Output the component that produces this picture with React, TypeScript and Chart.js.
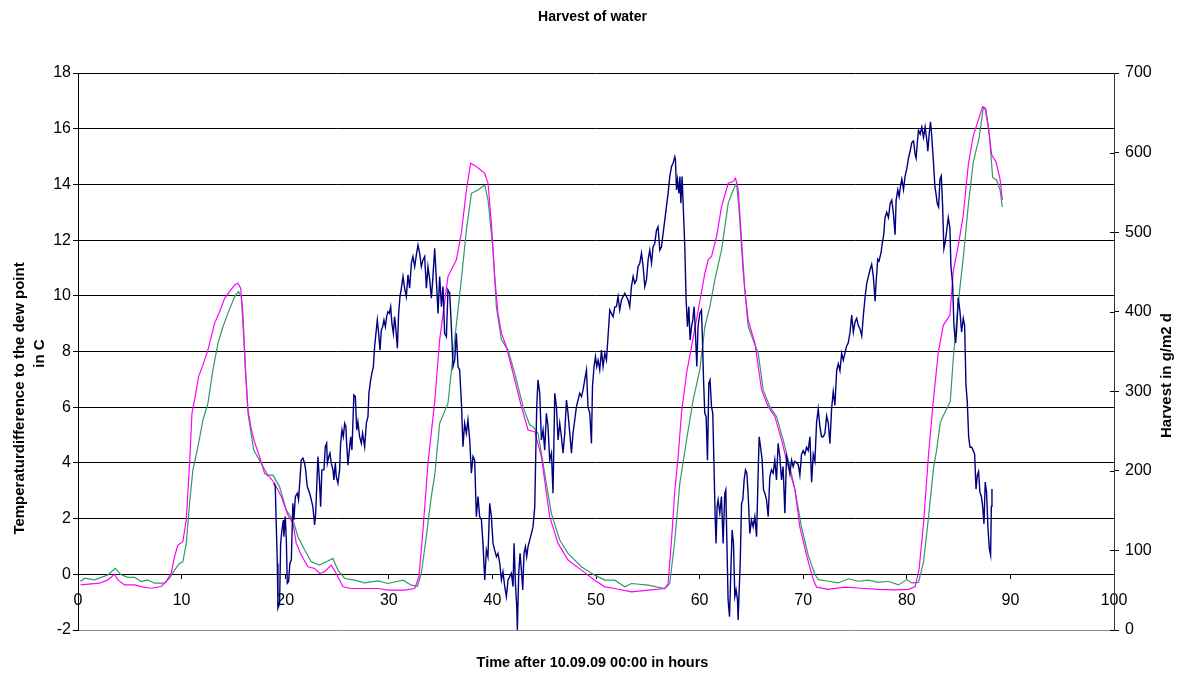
import React, { useEffect, useRef } from "react";
import { Chart, registerables } from "chart.js";

Chart.register(...registerables);

const FONT = '"Liberation Sans", Arial, Helvetica, sans-serif';

const chartTitle = "Harvest of water";
const xTitle = "Time after 10.09.09 00:00 in hours";
const leftTitleLines = ["Temperaturdifference to the dew point", "in C"];
const rightTitle = "Harvest in g/m2 d";

const xTicks = { min: 0, max: 100, step: 10 };
const leftTicks = { min: -2, max: 18, step: 2 };
const rightTicks = { min: 0, max: 700, step: 100 };

// [hours, temperature difference to the dew point in C]
const dewPointDiff: [number, number][] = [
  [18.91, 3.27], [19.04, 3.15], [19.24, 0.39], [19.3, -1.22], [19.46, -1.04], [19.56, 1.11], [19.68, 1.59],
  [19.82, 1.95], [19.87, 1.35], [20.01, 2.07], [20.11, 1.23], [20.2, -0.32], [20.33, -0.26], [20.45, 0.39],
  [20.59, 0.51], [20.74, 2.55], [20.84, 1.95], [20.98, 2.79], [21.17, 2.91], [21.29, 2.67], [21.55, 4.1],
  [21.71, 4.17], [21.87, 3.99], [21.97, 3.75], [22.13, 3.15], [22.36, 2.91], [22.52, 2.67], [22.67, 2.43],
  [22.84, 1.77], [22.94, 2.19], [23.16, 4.23], [23.32, 3.27], [23.42, 2.43], [23.54, 3.75], [23.74, 3.75],
  [23.87, 4.58], [24.0, 4.7], [24.07, 3.99], [24.21, 4.23], [24.32, 4.35], [24.45, 3.99], [24.61, 3.75],
  [24.7, 3.39], [24.84, 3.99], [24.93, 3.51], [25.09, 3.27], [25.25, 3.75], [25.35, 4.7], [25.48, 5.18],
  [25.61, 4.94], [25.74, 5.42], [25.86, 5.3], [25.93, 4.7], [26.06, 3.92], [26.19, 4.46], [26.32, 4.94],
  [26.44, 4.46], [26.63, 6.44], [26.77, 6.38], [26.9, 5.18], [27.02, 5.48], [27.18, 4.94], [27.35, 4.7],
  [27.47, 5.06], [27.67, 4.58], [27.83, 5.42], [27.99, 5.66], [28.08, 6.5], [28.25, 6.98], [28.37, 7.22],
  [28.51, 7.46], [28.63, 8.17], [28.76, 8.65], [28.89, 9.13], [29.02, 8.65], [29.15, 8.05], [29.28, 8.77],
  [29.41, 8.89], [29.53, 9.13], [29.67, 8.89], [29.79, 9.25], [29.92, 9.43], [30.05, 9.37], [30.18, 9.61],
  [30.3, 9.01], [30.44, 8.65], [30.56, 9.25], [30.69, 8.77], [30.83, 8.12], [30.95, 9.37], [31.08, 9.97],
  [31.21, 10.27], [31.37, 10.69], [31.53, 10.27], [31.69, 9.97], [31.85, 10.75], [32.01, 10.27], [32.18, 11.17],
  [32.33, 11.41], [32.5, 11.05], [32.66, 11.47], [32.82, 11.82], [32.98, 11.53], [33.14, 11.05], [33.3, 11.29],
  [33.46, 11.41], [33.63, 10.27], [33.78, 11.05], [33.95, 10.57], [34.11, 9.91], [34.26, 10.69], [34.43, 11.71],
  [34.59, 10.57], [34.75, 9.37], [34.91, 10.69], [35.08, 9.61], [35.23, 10.33], [35.39, 8.65], [35.56, 8.53],
  [35.71, 10.21], [35.88, 10.09], [36.04, 8.89], [36.2, 7.46], [36.36, 7.69], [36.52, 8.65], [36.68, 7.46],
  [36.84, 7.34], [37.01, 6.14], [37.16, 4.58], [37.32, 5.42], [37.49, 5.06], [37.64, 5.54], [37.81, 4.82],
  [37.97, 3.63], [38.13, 4.23], [38.29, 4.1], [38.45, 2.07], [38.61, 2.79], [38.77, 2.07], [38.94, 1.95],
  [39.09, 1.11], [39.26, -0.2], [39.42, 0.87], [39.57, 0.63], [39.74, 2.55], [39.9, 2.07], [40.06, 1.11],
  [40.22, 0.87], [40.39, 0.63], [40.54, 0.75], [40.71, 0.39], [40.87, -0.2], [41.02, 0.09], [41.19, -0.44],
  [41.35, -0.8], [41.51, -0.2], [41.67, -0.09], [41.83, 0.04], [41.99, -0.44], [42.09, 1.11], [42.22, -0.32],
  [42.35, -1.16], [42.41, -2.0], [42.54, 0.04], [42.67, 0.75], [42.8, 0.15], [42.93, -0.56], [43.05, 0.75],
  [43.19, 0.99], [43.31, 0.63], [43.44, 0.99], [43.6, 1.23], [43.77, 1.47], [43.92, 1.71], [44.09, 2.43],
  [44.18, 4.23], [44.28, 6.02], [44.4, 6.98], [44.57, 6.5], [44.73, 4.82], [44.89, 5.18], [45.05, 4.46],
  [45.21, 5.78], [45.37, 5.3], [45.53, 4.1], [45.7, 4.35], [45.85, 2.91], [46.02, 6.5], [46.18, 6.02],
  [46.34, 4.82], [46.5, 5.42], [46.66, 4.94], [46.82, 4.35], [46.98, 5.06], [47.15, 6.26], [47.3, 5.78],
  [47.47, 5.06], [47.63, 4.35], [47.78, 5.06], [47.95, 5.54], [48.11, 6.02], [48.27, 6.26], [48.43, 6.5],
  [48.6, 6.38], [48.75, 6.62], [48.91, 6.98], [49.08, 7.34], [49.23, 6.02], [49.4, 5.78], [49.56, 4.7],
  [49.66, 6.74], [49.81, 7.46], [49.95, 7.82], [50.07, 7.46], [50.2, 7.69], [50.36, 7.34], [50.53, 8.05],
  [50.68, 7.46], [50.85, 7.94], [51.01, 7.69], [51.16, 8.53], [51.33, 9.49], [51.49, 9.37], [51.65, 9.25],
  [51.81, 9.6], [51.97, 9.61], [52.13, 9.97], [52.29, 9.49], [52.46, 9.85], [52.78, 10.09], [53.1, 9.85],
  [53.26, 9.61], [53.42, 10.33], [53.58, 10.69], [53.74, 10.45], [53.91, 10.57], [54.06, 11.05], [54.23, 11.17],
  [54.39, 11.53], [54.55, 11.05], [54.71, 10.33], [54.87, 10.57], [55.03, 11.29], [55.19, 11.64], [55.36, 11.17],
  [55.51, 11.76], [55.67, 11.88], [55.84, 12.36], [55.99, 12.48], [56.16, 11.64], [56.32, 11.76], [56.48, 12.24],
  [56.64, 12.72], [56.8, 13.2], [56.96, 13.68], [57.12, 14.28], [57.29, 14.64], [57.44, 14.76], [57.61, 14.99],
  [57.67, 14.88], [57.77, 13.8], [57.87, 14.16], [58.0, 13.68], [58.1, 14.28], [58.19, 13.32], [58.31, 14.28],
  [58.41, 13.32], [58.57, 11.76], [58.7, 9.85], [58.83, 8.89], [58.96, 9.61], [59.08, 8.41], [59.22, 8.89],
  [59.34, 9.13], [59.47, 9.61], [59.6, 8.65], [59.73, 7.46], [59.85, 8.89], [60.02, 9.37], [60.18, 9.49],
  [60.28, 8.41], [60.38, 6.98], [60.5, 5.78], [60.63, 5.66], [60.76, 4.1], [60.89, 6.86], [61.01, 6.98],
  [61.15, 6.02], [61.27, 5.78], [61.4, 3.75], [61.5, 2.07], [61.59, 1.11], [61.69, 2.43], [61.79, 2.67],
  [61.95, 2.19], [62.11, 2.79], [62.27, 1.11], [62.43, 2.91], [62.53, 3.03], [62.63, 1.23], [62.75, -0.92],
  [62.89, -1.52], [63.01, 0.04], [63.14, 1.59], [63.27, 1.11], [63.4, -0.8], [63.52, -0.56], [63.66, -0.92],
  [63.72, -1.64], [63.82, -0.56], [63.91, 0.27], [64.05, 2.55], [64.17, 2.67], [64.3, 3.39], [64.43, 3.75],
  [64.56, 3.63], [64.68, 2.91], [64.85, 1.47], [65.01, 1.95], [65.17, 1.71], [65.33, 2.07], [65.5, 1.35],
  [65.65, 3.63], [65.75, 4.94], [65.88, 4.58], [66.04, 4.1], [66.17, 3.03], [66.3, 2.91], [66.46, 2.67],
  [66.62, 2.07], [66.78, 3.51], [66.94, 3.75], [67.1, 3.63], [67.26, 4.1], [67.42, 3.39], [67.58, 4.7],
  [67.74, 4.23], [67.91, 3.39], [68.06, 3.87], [68.23, 2.19], [68.39, 4.23], [68.55, 3.99], [68.71, 3.63],
  [68.88, 4.1], [69.03, 3.87], [69.19, 4.06], [69.52, 3.94], [69.68, 3.56], [69.84, 4.31], [70.0, 4.44],
  [70.16, 4.31], [70.32, 4.56], [70.48, 4.44], [70.65, 4.94], [70.81, 3.31], [70.97, 4.31], [71.13, 4.06],
  [71.29, 5.44], [71.45, 5.94], [71.61, 5.31], [71.77, 4.94], [71.94, 4.94], [72.1, 5.06], [72.26, 5.69],
  [72.42, 5.44], [72.58, 4.69], [72.74, 5.94], [72.9, 6.56], [73.06, 6.06], [73.23, 7.31], [73.39, 7.56],
  [73.55, 7.31], [73.71, 7.94], [73.87, 7.69], [74.03, 7.94], [74.19, 8.19], [74.35, 8.31], [74.52, 8.69],
  [74.68, 9.31], [74.84, 8.69], [75.0, 9.06], [75.16, 9.19], [75.32, 8.94], [75.48, 8.81], [75.65, 8.56],
  [75.81, 9.31], [75.97, 9.94], [76.13, 10.44], [76.29, 10.69], [76.45, 10.94], [76.61, 11.13], [76.77, 10.69],
  [76.94, 9.81], [77.03, 10.44], [77.19, 11.31], [77.32, 11.25], [77.52, 11.56], [77.65, 11.94], [77.77, 12.19],
  [77.9, 12.81], [78.06, 13.0], [78.23, 12.81], [78.39, 13.31], [78.55, 13.44], [78.71, 12.94], [78.87, 12.19],
  [78.97, 13.44], [79.13, 13.81], [79.26, 13.56], [79.39, 13.94], [79.52, 14.19], [79.68, 13.81], [79.84, 14.31],
  [80.0, 14.56], [80.16, 14.94], [80.32, 15.19], [80.48, 15.5], [80.65, 15.56], [80.81, 15.06], [80.9, 14.94],
  [81.0, 15.44], [81.13, 15.94], [81.29, 15.81], [81.45, 16.06], [81.61, 15.69], [81.77, 16.06], [81.94, 15.56],
  [82.03, 15.19], [82.16, 15.81], [82.29, 16.25], [82.39, 15.81], [82.55, 14.94], [82.71, 13.94], [82.81, 13.69],
  [82.94, 13.31], [83.07, 13.19], [83.2, 14.19], [83.33, 14.31], [83.45, 13.31], [83.58, 11.69], [83.71, 11.94],
  [83.84, 12.31], [84.0, 12.81], [84.16, 12.44], [84.26, 11.06], [84.42, 10.44], [84.55, 8.94], [84.71, 8.31],
  [84.8, 8.69], [84.97, 9.94], [85.13, 9.44], [85.29, 8.69], [85.45, 9.19], [85.58, 8.94], [85.71, 6.81],
  [85.84, 6.19], [85.97, 4.94], [86.1, 4.56], [86.26, 4.56], [86.42, 4.44], [86.55, 4.31], [86.68, 3.06],
  [86.81, 3.56], [86.93, 3.69], [87.06, 2.94], [87.19, 2.81], [87.32, 2.44], [87.45, 1.81], [87.57, 3.31],
  [87.7, 2.94], [87.83, 1.69], [87.96, 0.94], [88.09, 0.69], [88.16, 2.44], [88.22, 3.06],
];

// [hours, value] of the magenta curve
const magentaCurve: [number, number][] = [
  [0.24, -0.38], [2.08, -0.32], [2.88, -0.2], [3.52, 0.0], [3.85, -0.2], [4.49, -0.38], [5.46, -0.38],
  [6.1, -0.44], [7.07, -0.5], [8.03, -0.44], [8.51, -0.26], [9.0, 0.04], [9.32, 0.63], [9.64, 1.05],
  [10.12, 1.17], [10.45, 1.95], [10.77, 3.99], [11.0, 5.78], [11.25, 6.26], [11.64, 7.1], [12.06, 7.52],
  [12.54, 8.05], [13.18, 9.01], [13.67, 9.43], [14.15, 9.91], [14.63, 10.15], [15.12, 10.39], [15.44, 10.45],
  [15.7, 10.27], [15.92, 9.37], [16.15, 7.34], [16.41, 5.9], [16.73, 5.2], [17.04, 4.75], [17.53, 4.22],
  [18.01, 3.62], [18.49, 3.5], [18.97, 3.27], [19.62, 2.79], [20.26, 2.13], [20.75, 1.83], [21.07, 1.11],
  [21.55, 0.69], [22.19, 0.27], [22.84, 0.21], [23.32, 0.03], [23.8, 0.09], [24.45, 0.33], [24.93, 0.03],
  [25.58, -0.45], [26.38, -0.51], [27.67, -0.51], [28.96, -0.51], [29.92, -0.57], [31.53, -0.57], [32.5, -0.51],
  [32.91, -0.09], [33.3, 1.59], [33.78, 3.98], [34.43, 6.2], [34.91, 8.42], [35.71, 10.69], [36.52, 11.29],
  [37.0, 12.24], [37.49, 13.8], [37.9, 14.76], [38.45, 14.64], [39.26, 14.4], [39.58, 14.04], [39.9, 12.6],
  [40.22, 10.69], [40.54, 9.37], [40.87, 8.65], [41.35, 8.17], [42.15, 6.98], [42.8, 6.02], [43.44, 5.18],
  [44.09, 5.12], [44.73, 4.22], [45.53, 2.07], [46.34, 1.11], [47.3, 0.51], [48.59, 0.15], [49.88, -0.21],
  [50.85, -0.45], [51.81, -0.51], [53.42, -0.63], [55.03, -0.57], [56.64, -0.51], [56.96, -0.33], [57.29, 1.23],
  [57.61, 3.02], [57.93, 4.22], [58.25, 5.78], [58.74, 7.22], [59.22, 8.17], [59.87, 9.49], [60.51, 10.81],
  [60.83, 11.29], [61.15, 11.41], [61.63, 12.12], [62.12, 13.2], [62.76, 14.04], [63.24, 14.1], [63.47, 14.22],
  [63.73, 13.8], [64.05, 12.0], [64.37, 10.21], [64.69, 9.13], [65.34, 8.29], [65.98, 6.62], [66.62, 6.02],
  [67.27, 5.66], [67.91, 4.82], [68.56, 3.86], [69.2, 3.04], [69.68, 1.69], [70.32, 0.69], [70.97, -0.19],
  [71.29, -0.46], [72.42, -0.54], [74.03, -0.46], [75.65, -0.5], [77.26, -0.54], [78.87, -0.56], [80.16, -0.54],
  [80.81, -0.44], [81.19, 0.19], [81.61, 1.81], [82.1, 4.31], [82.55, 6.19], [83.03, 7.94], [83.52, 8.94],
  [84.16, 9.31], [84.49, 10.9], [84.97, 11.8], [85.45, 12.9], [85.95, 14.75], [86.42, 15.75], [86.9, 16.31],
  [87.32, 16.79], [87.55, 16.75], [87.87, 16.06], [88.19, 15.06], [88.61, 14.81], [89.0, 14.19], [89.22, 13.44],
];

// [hours, value] of the green curve
const greenCurve: [number, number][] = [
  [0.24, -0.26], [0.63, -0.14], [1.59, -0.2], [2.88, -0.02], [3.59, 0.21], [4.17, -0.02], [4.81, -0.11],
  [5.46, -0.11], [6.1, -0.26], [6.74, -0.2], [7.39, -0.32], [8.35, -0.32], [8.84, -0.14], [9.32, 0.15],
  [9.8, 0.39], [10.12, 0.45], [10.45, 1.11], [10.77, 2.55], [11.09, 3.75], [11.58, 4.58], [12.06, 5.54],
  [12.54, 6.14], [13.02, 7.34], [13.51, 8.29], [13.99, 8.89], [14.47, 9.37], [15.12, 9.97], [15.5, 10.15],
  [15.76, 9.97], [16.09, 7.94], [16.41, 5.78], [16.96, 4.46], [17.69, 3.98], [18.33, 3.56], [18.81, 3.56],
  [19.46, 3.14], [20.1, 2.31], [20.75, 1.95], [21.23, 1.35], [21.88, 0.87], [22.52, 0.45], [23.32, 0.33],
  [23.97, 0.45], [24.61, 0.57], [25.09, 0.15], [25.74, -0.15], [26.7, -0.21], [27.67, -0.31], [28.96, -0.24],
  [29.92, -0.33], [31.37, -0.21], [32.18, -0.39], [32.76, -0.43], [33.14, 0.03], [33.62, 1.35], [34.1, 2.79],
  [34.43, 3.55], [34.91, 5.42], [35.71, 6.14], [36.36, 8.42], [37.0, 10.57], [37.49, 12.36], [37.97, 13.68],
  [38.61, 13.8], [39.26, 13.98], [39.58, 13.44], [40.06, 11.65], [40.38, 9.61], [40.87, 8.42], [41.51, 8.05],
  [42.15, 7.22], [42.96, 6.02], [43.6, 5.36], [43.92, 5.3], [44.41, 5.06], [45.05, 3.62], [45.69, 2.19],
  [46.5, 1.23], [47.3, 0.75], [48.59, 0.27], [49.88, -0.03], [50.85, -0.21], [51.81, -0.21], [52.78, -0.45],
  [53.42, -0.33], [55.03, -0.39], [56.64, -0.51], [57.12, -0.33], [57.61, 1.23], [58.09, 3.26], [58.74, 4.82],
  [59.38, 6.26], [60.02, 7.34], [60.51, 8.89], [60.99, 9.61], [61.47, 10.57], [62.12, 11.65], [62.76, 13.32],
  [63.24, 13.8], [63.56, 14.04], [63.79, 13.2], [64.21, 10.81], [64.69, 8.89], [65.17, 8.41], [65.66, 7.93],
  [66.14, 6.62], [66.78, 6.02], [67.43, 5.66], [68.07, 4.82], [68.72, 3.86], [69.2, 3.04], [69.84, 1.69],
  [70.48, 0.69], [71.13, 0.0], [71.45, -0.19], [72.42, -0.25], [73.39, -0.31], [74.35, -0.16], [75.32, -0.25],
  [76.29, -0.21], [77.26, -0.29], [78.23, -0.25], [79.19, -0.38], [80.0, -0.19], [80.48, -0.31], [81.13, -0.29],
  [81.61, 0.44], [82.1, 2.06], [82.58, 3.81], [82.87, 4.44], [83.23, 5.44], [83.52, 5.69], [84.0, 6.06],
  [84.19, 6.19], [84.5, 7.8], [84.98, 9.8], [85.46, 11.4], [85.95, 13.3], [86.42, 14.81], [86.99, 15.69],
  [87.38, 16.75], [87.64, 16.69], [87.96, 15.81], [88.29, 14.25], [88.67, 14.16], [89.0, 13.81], [89.22, 13.19],
];

const toPoints = (rows: [number, number][]) => rows.map(([x, y]) => ({ x, y }));

// Vertical axis titles (left one in two lines, right one reading upwards)
// and the short inward tick marks on the right-hand axis
const sideTitles = {
  id: "sideTitles",
  afterDraw(chart: Chart) {
    const { ctx, chartArea } = chart;
    const mid = (chartArea.top + chartArea.bottom) / 2;
    const put = (text: string, x: number, y: number, maxWidth: number) => {
      ctx.save();
      ctx.translate(x, y);
      ctx.rotate(-Math.PI / 2);
      ctx.fillText(text, 0, 0, maxWidth);
      ctx.restore();
    };
    ctx.save();
    ctx.fillStyle = "#000";
    ctx.font = `bold 15px ${FONT}`;
    ctx.textAlign = "center";
    ctx.textBaseline = "middle";
    put(leftTitleLines[0], 20, mid + 47, 282);
    put(leftTitleLines[1], 40, mid + 2, 40);
    put(rightTitle, chart.width - 18, mid + 24, 132);

    const right = chart.scales.y1;
    if (right) {
      ctx.strokeStyle = "#000";
      ctx.lineWidth = 1;
      ctx.beginPath();
      right.ticks.forEach((t) => {
        const py = Math.round(right.getPixelForValue(t.value)) + 0.5;
        ctx.moveTo(chartArea.right - 4, py);
        ctx.lineTo(chartArea.right, py);
      });
      ctx.stroke();
    }
    ctx.restore();
  },
};

export default function App() {
  const canvasRef = useRef<HTMLCanvasElement | null>(null);

  useEffect(() => {
    if (!canvasRef.current) return;
    const chart = new Chart(canvasRef.current, {
      type: "line",
      data: {
        datasets: [
          {
            data: toPoints(dewPointDiff),
            borderColor: "#000080",
            borderWidth: 1.4,
            pointRadius: 0,
            yAxisID: "y",
          },
          {
            data: toPoints(magentaCurve),
            borderColor: "#FF00FF",
            borderWidth: 1.2,
            pointRadius: 0,
            yAxisID: "y",
          },
          {
            data: toPoints(greenCurve),
            borderColor: "#339966",
            borderWidth: 1.2,
            pointRadius: 0,
            yAxisID: "y",
          },
        ],
      },
      options: {
        animation: false,
        responsive: true,
        maintainAspectRatio: false,
        events: [],
        plugins: {
          legend: { display: false },
          tooltip: { enabled: false },
          title: {
            display: true,
            text: chartTitle,
            color: "#000",
            font: { family: FONT, size: 14, weight: "bold" },
            padding: { top: 9, bottom: 47.2 },
          },
          subtitle: {
            display: true,
            position: "bottom",
            text: xTitle,
            color: "#000",
            font: { family: FONT, size: 14.5, weight: "bold" },
            padding: { top: 24.3, bottom: 4.3 },
          },
        },
        scales: {
          x: {
            type: "linear",
            position: { y: 0 },
            min: xTicks.min,
            max: xTicks.max,
            ticks: {
              stepSize: xTicks.step,
              color: "#000",
              font: { family: FONT, size: 16 },
              padding: 13,
              maxRotation: 0,
            },
            grid: { display: true, drawOnChartArea: false, drawTicks: true, tickLength: 4, color: "#000" },
            border: { display: true, color: "#000", width: 1 },
          },
          y: {
            type: "linear",
            position: "left",
            min: leftTicks.min,
            max: leftTicks.max,
            ticks: {
              stepSize: leftTicks.step,
              color: "#000",
              font: { family: FONT, size: 16 },
              padding: 2,
            },
            grid: {
              color: (c: any) => (c.tick && c.tick.value === leftTicks.min ? "#8a8a8a" : "#000"),
              tickColor: "#000",
              tickLength: 5,
              lineWidth: 1,
            },
            border: { display: true, color: "#000", width: 1 },
            afterFit: (scale: any) => {
              scale.width = 78;
            },
          },
          y1: {
            type: "linear",
            position: "right",
            min: rightTicks.min,
            max: rightTicks.max,
            ticks: {
              stepSize: rightTicks.step,
              color: "#000",
              font: { family: FONT, size: 16 },
              padding: 6,
            },
            grid: { display: true, drawOnChartArea: false, drawTicks: true, tickLength: 5, color: "#000" },
            border: { display: true, color: "#333", width: 1 },
            afterFit: (scale: any) => {
              scale.width = 71;
            },
          },
        },
      },
      plugins: [sideTitles],
    });
    return () => chart.destroy();
  }, []);

  return (
    <div style={{ position: "fixed", left: 0, top: 0, width: 1185, height: 676, background: "#fff" }}>
      <canvas ref={canvasRef} />
    </div>
  );
}
